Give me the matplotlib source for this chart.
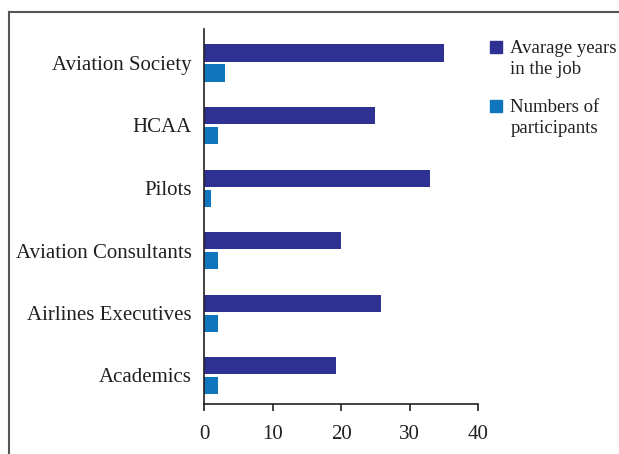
import matplotlib
matplotlib.use("Agg")
import matplotlib.pyplot as plt
import numpy as np
from matplotlib.lines import Line2D
from matplotlib.patches import Patch, Rectangle
from matplotlib.legend_handler import HandlerPatch

plt.rcParams['font.family'] = ['Liberation Serif', 'DejaVu Serif']

categories = ["Academics", "Airlines Executives", "Aviation Consultants", "Pilots", "HCAA", "Aviation Society"]
avg_years = [19.3, 25.8, 20, 33, 25, 35]
participants = [2, 2, 2, 1, 2, 3]
series_labels = ["Avarage years\nin the job", "Numbers of\nparticipants"]
xticks = [0, 10, 20, 30, 40]

dark = "#2E3192"
light = "#0F75BC"
txt = "#231F20"

W, H = 619, 454
fig = plt.figure(figsize=(W / 100, H / 100), dpi=100)
ax = fig.add_axes([204 / W, 1 - 404 / H, (478 - 204) / W, (404 - 29) / H])

y = np.arange(len(categories))
h = 0.272
ax.barh(y + 0.16, avg_years, height=h, color=dark, label=series_labels[0])
ax.barh(y - 0.16, participants, height=h, color=light, label=series_labels[1])

ax.set_xlim(0, 40)
ax.set_ylim(-0.456, 5.544)
ax.set_xticks(xticks)
ax.set_xticklabels([str(t) for t in xticks])
ax.set_yticks(y)
ax.set_yticklabels(categories)
for s in ["top", "right"]:
    ax.spines[s].set_visible(False)
for s in ["left", "bottom"]:
    ax.spines[s].set_color(txt)
    ax.spines[s].set_linewidth(1.2)
ax.tick_params(axis="x", direction="out", length=5, width=1.2, color=txt, pad=10, labelsize=15, labelcolor=txt)
ax.tick_params(axis="y", length=0, pad=9, labelsize=15, labelcolor=txt)


def top_square(legend, orig_handle, xdescent, ydescent, width, height, fontsize):
    shift = 8.5  # points: align square with first text line
    return Rectangle((-xdescent, -ydescent + shift), width, width)


handles = [Patch(color=dark), Patch(color=light)]
leg = fig.legend(handles, series_labels, loc="upper left", bbox_to_anchor=(490 / W, 1 - 40 / H),
                 frameon=False, fontsize=13.5, handlelength=0.64, handleheight=0.64,
                 handletextpad=0.45, labelspacing=1.1, labelcolor=txt, borderpad=0, borderaxespad=0,
                 handler_map={Patch: HandlerPatch(patch_func=top_square)})
for t in leg.get_texts():
    t.set_linespacing(1.33)

# outer frame (left and top edges)
fig.add_artist(Line2D([8.5 / W, 8.5 / W], [0, 1 - 11.5 / H], transform=fig.transFigure, color="#555555", lw=1.5))
fig.add_artist(Line2D([8.5 / W, 1], [1 - 11.5 / H, 1 - 11.5 / H], transform=fig.transFigure, color="#555555", lw=1.5))

fig.savefig("out.png", dpi=100)
